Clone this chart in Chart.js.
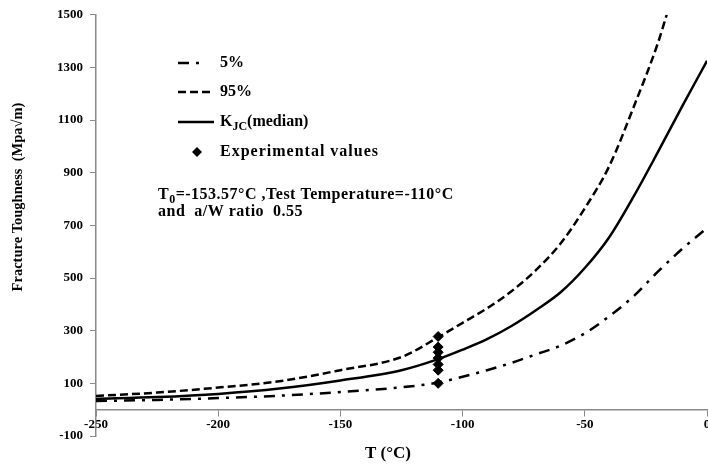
<!DOCTYPE html>
<html>
<head>
<meta charset="utf-8">
<script src="https://cdn.jsdelivr.net/npm/chart.js@4"></script>
<style>
  body { margin: 0; background: #fff; }
  #wrap { width: 708px; height: 468px; }
</style>
</head>
<body>
<div id="wrap"><canvas id="chart" width="708" height="468"></canvas></div>
<script>
// temperatures (deg C) for the 5% and median curves
var tempC = [-250, -225, -200, -175, -150, -125, -110, -100, -90, -80, -70, -60, -50, -40, -30, -20, -10, 0];
var kjcMedian = [41, 48, 60, 80, 111, 150, 192, 228, 268, 318, 378, 445, 538, 655, 810, 980, 1155, 1325];
var kjc5 = [33, 37, 44, 53, 67, 85, 103, 125, 150, 178, 210, 243, 290, 355, 431, 525, 612, 690];

// 95% curve leaves the plot at the top, so it has its own temperatures
var temp95 = [-250, -225, -200, -175, -150, -125, -110, -100, -90, -80, -70, -60, -50, -40, -30, -20, -16.5];
var kjc95 = [52, 65, 84, 108, 150, 200, 275, 330, 385, 450, 530, 630, 765, 925, 1150, 1395, 1500];

// experimental values, all at the test temperature
var expTemp = [-110, -110, -110, -110, -110, -110, -110];
var expValues = [100, 150, 172, 196, 218, 238, 278];

var yTicks = [-100, 100, 300, 500, 700, 900, 1100, 1300, 1500];

function pts(xs, ys) {
    var out = [];
    for (var i = 0; i < xs.length; i++) out.push({ x: xs[i], y: ys[i] });
    return out;
}

var serif = 'Liberation Serif';
var axisColor = '#8a8a8a';

// legend, note and axis titles drawn by hand, like the original
var insideLegend = {
    id: 'insideLegend',
    afterDraw: function (chart) {
        var ctx = chart.ctx;
        var sets = chart.data.datasets;
        ctx.save();
        ctx.fillStyle = '#000';
        ctx.strokeStyle = '#000';
        ctx.textBaseline = 'middle';
        ctx.font = 'bold 16px ' + serif;

        var rows = [63, 92, 122, 152];
        var x0 = 178, tx = 220;
        var ends = [205, 214, 214];
        for (var i = 0; i < 3; i++) {
            ctx.lineWidth = 2.5;
            ctx.setLineDash(sets[i].borderDash || []);
            ctx.beginPath();
            ctx.moveTo(x0, rows[i]);
            ctx.lineTo(ends[i], rows[i]);
            ctx.stroke();
        }
        ctx.setLineDash([]);

        ctx.fillText('5%', tx, rows[0]);
        ctx.fillText('95%', tx, rows[1]);
        ctx.fillText('K', tx, rows[2]);
        var kw = ctx.measureText('K').width;
        ctx.font = 'bold 12px ' + serif;
        ctx.fillText('JC', tx + kw, rows[2] + 5);
        var jw = ctx.measureText('JC').width;
        ctx.font = 'bold 16px ' + serif;
        ctx.fillText('(median)', tx + kw + jw, rows[2]);

        // diamond marker
        var dx = 197, dy = rows[3], r = 5;
        ctx.beginPath();
        ctx.moveTo(dx, dy - r);
        ctx.lineTo(dx + r, dy);
        ctx.lineTo(dx, dy + r);
        ctx.lineTo(dx - r, dy);
        ctx.closePath();
        ctx.fill();
        ctx.letterSpacing = '1px';
        ctx.fillText('Experimental values', tx, rows[3]);

        // note about T0
        ctx.letterSpacing = '0.5px';
        var nx = 158, ny = 195;
        ctx.fillText('T', nx, ny);
        var tw = ctx.measureText('T').width;
        ctx.font = 'bold 12px ' + serif;
        ctx.fillText('0', nx + tw, ny + 5);
        var zw = ctx.measureText('0').width;
        ctx.font = 'bold 16px ' + serif;
        ctx.fillText('=-153.57\u00b0C ,Test Temperature=-110\u00b0C', nx + tw + zw, ny);
        ctx.fillText('and  a/W ratio  0.55', nx, ny + 17);
        ctx.letterSpacing = '0px';

        // axis titles
        ctx.textAlign = 'center';
        ctx.font = 'bold 17px ' + serif;
        ctx.fillText('T (\u00b0C)', 388, 454);
        ctx.translate(18, 197);
        ctx.rotate(-Math.PI / 2);
        ctx.font = 'bold 14.5px ' + serif;
        ctx.fillText('Fracture Toughness  (Mpa\u221am)', 0, 0);
        ctx.restore();
    }
};

var ctx = document.getElementById('chart').getContext('2d');
var chart = new Chart(ctx, {
    type: 'line',
    data: {
        datasets: [{
            label: '5%',
            data: pts(tempC, kjc5),
            borderColor: '#000',
            borderWidth: 2.5,
            borderDash: [11, 7, 3, 7],
            pointRadius: 0,
            cubicInterpolationMode: 'monotone'
        }, {
            label: '95%',
            data: pts(temp95, kjc95),
            borderColor: '#000',
            borderWidth: 2.5,
            borderDash: [8, 4],
            pointRadius: 0,
            cubicInterpolationMode: 'monotone'
        }, {
            label: 'KJC(median)',
            data: pts(tempC, kjcMedian),
            borderColor: '#000',
            borderWidth: 2.5,
            pointRadius: 0,
            cubicInterpolationMode: 'monotone'
        }, {
            type: 'scatter',
            label: 'Experimental values',
            data: pts(expTemp, expValues),
            backgroundColor: '#000',
            borderColor: '#000',
            pointStyle: 'rectRot',
            pointRadius: 5
        }]
    },
    options: {
        responsive: false,
        animation: false,
        layout: {
            autoPadding: false,
            padding: { left: 0, right: 1, top: 12, bottom: 32 }
        },
        plugins: {
            legend: { display: false },
            tooltip: { enabled: false }
        },
        scales: {
            x: {
                type: 'linear',
                position: { y: 0 },
                min: -250,
                max: 0,
                afterFit: function (axis) {
                    axis.paddingLeft = 0;
                    axis.paddingRight = 0;
                },
                ticks: {
                    stepSize: 50,
                    padding: 1,
                    color: '#000',
                    font: { family: serif, size: 13, weight: 'bold' }
                },
                grid: { drawOnChartArea: false, drawTicks: true, tickLength: 6, color: axisColor },
                border: { color: axisColor, width: 1.5 }
            },
            y: {
                min: -100,
                max: 1500,
                afterBuildTicks: function (axis) {
                    axis.ticks = yTicks.map(function (v) { return { value: v }; });
                },
                afterFit: function (axis) {
                    axis.width = 96;
                },
                ticks: {
                    padding: 7,
                    color: '#000',
                    font: { family: serif, size: 13, weight: 'bold' },
                    callback: function (v) { return String(v); }
                },
                grid: { drawOnChartArea: false, drawTicks: true, tickLength: 6, color: axisColor },
                border: { color: axisColor, width: 1.5 }
            }
        }
    },
    plugins: [insideLegend]
});
</script>
</body>
</html>
